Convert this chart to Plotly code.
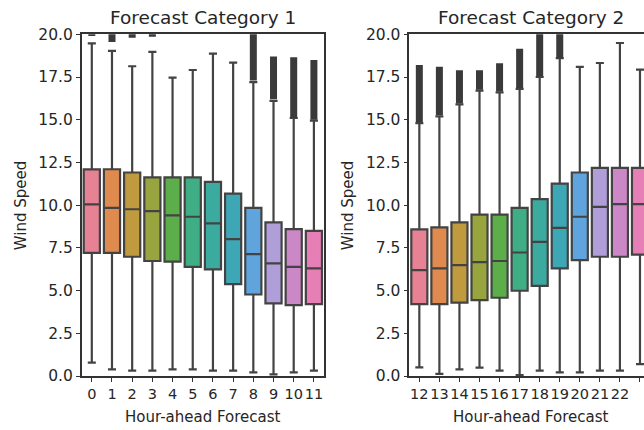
import plotly.graph_objects as go

# ---------------- data ----------------
hours_1 = [0, 1, 2, 3, 4, 5, 6, 7, 8, 9, 10, 11]
q1_1 = [7.21, 7.21, 6.98, 6.73, 6.69, 6.39, 6.24, 5.38, 4.77, 4.25, 4.15, 4.21]
med_1 = [10.04, 9.84, 9.76, 9.65, 9.40, 9.32, 8.93, 8.01, 7.13, 6.59, 6.39, 6.30]
q3_1 = [12.09, 12.10, 11.91, 11.62, 11.62, 11.62, 11.36, 10.68, 9.84, 8.99, 8.60, 8.50]
lo_1 = [0.78, 0.39, 0.31, 0.31, 0.39, 0.39, 0.31, 0.31, 0.21, 0.10, 0.21, 0.31]
hi_1 = [19.47, 19.03, 18.13, 18.97, 17.47, 17.91, 18.87, 18.34, 17.20, 16.10, 15.10, 14.95]
out_lo_1 = [19.90, 19.55, 19.80, 19.85, None, None, None, None, 17.30, 16.20, 15.10, 15.00]
out_hi_1 = [20.40, 20.40, 20.40, 20.40, None, None, None, None, 20.50, 18.70, 18.65, 18.50]

hours_2 = [12, 13, 14, 15, 16, 17, 18, 19, 20, 21, 22, 23]
q1_2 = [4.21, 4.21, 4.29, 4.44, 4.58, 4.99, 5.28, 6.30, 6.78, 6.98, 6.98, 7.11]
med_2 = [6.20, 6.30, 6.49, 6.67, 6.73, 7.23, 7.85, 8.67, 9.32, 9.90, 10.06, 10.06]
q3_2 = [8.58, 8.70, 8.99, 9.45, 9.45, 9.84, 10.35, 11.26, 11.91, 12.18, 12.18, 12.18]
lo_2 = [0.51, 0.12, 0.39, 0.49, 0.31, 0.05, 0.31, 0.21, 0.21, 0.31, 0.31, 0.70]
hi_2 = [14.80, 15.20, 15.90, 16.70, 16.60, 16.80, 17.50, 18.60, 18.09, 18.32, 19.49, 17.93]
out_lo_2 = [14.87, 15.26, 15.95, 16.75, 16.65, 16.85, 17.55, 18.60, None, None, None, None]
out_hi_2 = [18.20, 18.10, 17.90, 17.90, 18.30, 19.15, 20.50, 20.50, None, None, None, None]

tick_y = [0, 2.5, 5, 7.5, 10, 12.5, 15, 17.5, 20]

colors = ["#e68294", "#df8a4e", "#c09a3e", "#98a53e", "#5cae4a", "#3fae84",
          "#3cab9f", "#3da7b6", "#5fa4dc", "#b09ed8", "#cc88c6", "#e57fb5"]

EDGE = "#434343"
FONT = "DejaVu Sans"

fig = go.Figure()


def add_boxes(hours, q1, med, q3, lo, hi, xa, ya):
    for i, h in enumerate(hours):
        fig.add_trace(go.Box(
            x=[h], q1=[q1[i]], median=[med[i]], q3=[q3[i]],
            lowerfence=[lo[i]], upperfence=[hi[i]],
            width=0.8, whiskerwidth=0.5,
            fillcolor=colors[i], line=dict(color=EDGE, width=2.2),
            boxpoints=False, xaxis=xa, yaxis=ya, showlegend=False,
            hoverinfo="skip"))


def add_outliers(hours, olo, ohi, xa, ya):
    xs, ys = [], []
    for h, a, b in zip(hours, olo, ohi):
        if a is None:
            continue
        xs += [h, h, None]
        ys += [a, b, None]
    fig.add_trace(go.Scatter(x=xs, y=ys, mode="lines",
                             line=dict(color="#3a3a3a", width=7),
                             xaxis=xa, yaxis=ya, showlegend=False,
                             hoverinfo="skip"))


add_boxes(hours_1, q1_1, med_1, q3_1, lo_1, hi_1, "x", "y")
add_outliers(hours_1, out_lo_1, out_hi_1, "x", "y")
add_boxes(hours_2, q1_2, med_2, q3_2, lo_2, hi_2, "x2", "y2")
add_outliers(hours_2, out_lo_2, out_hi_2, "x2", "y2")

W, H = 644, 430
ytop = 1 - 34.3 / H
ybot = 1 - 376 / H
d1 = [81.7 / W, 324 / W]
d2 = [409.3 / W, 1.0]

axis_common = dict(showline=True, linecolor="#333333", linewidth=1.5,
                   ticks="outside", ticklen=4, tickwidth=1.2, tickcolor="#333333",
                   showgrid=False, zeroline=False, automargin=False)
ytickfont = dict(family=FONT, size=15.5, color="#262626")
xtickfont = dict(family=FONT, size=14.5, color="#262626")

fig.update_layout(
    width=W, height=H,
    margin=dict(l=0, r=0, t=0, b=0, autoexpand=False),
    paper_bgcolor="white", plot_bgcolor="white",
    boxmode="overlay",
    xaxis=dict(domain=d1, anchor="y", range=[-0.5, 11.5], tickvals=hours_1,
               ticktext=[str(h) for h in hours_1], mirror=True, tickangle=0,
               tickfont=xtickfont, **axis_common),
    yaxis=dict(domain=[ybot, ytop], anchor="x", range=[0, 20], tickvals=tick_y,
               ticktext=["%.1f" % v for v in tick_y], mirror=True,
               tickfont=ytickfont, **axis_common),
    xaxis2=dict(domain=d2, anchor="y2", range=[11.5, 23.2], tickvals=hours_2,
                ticktext=[str(h) for h in hours_2], mirror=True, tickangle=0,
                tickfont=xtickfont, **axis_common),
    yaxis2=dict(domain=[ybot, ytop], anchor="x2", range=[0, 20], tickvals=tick_y,
                ticktext=["%.1f" % v for v in tick_y], mirror=False,
                tickfont=ytickfont, **axis_common),
)

ann_font = dict(family=FONT, size=15, color="#262626")
title_font = dict(family=FONT, size=18.5, color="#262626")
annotations = [
    dict(text="Forecast Category 1", x=(81.7 + 324) / 2 / W, y=1 - 18 / H,
         font=title_font),
    dict(text="Forecast Category 2", x=(409.3 + 652) / 2 / W, y=1 - 18 / H,
         font=title_font),
    dict(text="Hour-ahead Forecast", x=(81.7 + 324) / 2 / W, y=1 - 417 / H,
         font=ann_font),
    dict(text="Hour-ahead Forecast", x=(409.3 + 652) / 2 / W, y=1 - 417 / H,
         font=ann_font),
    dict(text="Wind Speed", x=21 / W, y=(ybot + ytop) / 2, textangle=-90,
         font=ann_font),
    dict(text="Wind Speed", x=348 / W, y=(ybot + ytop) / 2, textangle=-90,
         font=ann_font),
]
for a in annotations:
    a.update(xref="paper", yref="paper", showarrow=False,
             xanchor="center", yanchor="middle")
fig.update_layout(annotations=annotations)

fig.write_html("out.html")
